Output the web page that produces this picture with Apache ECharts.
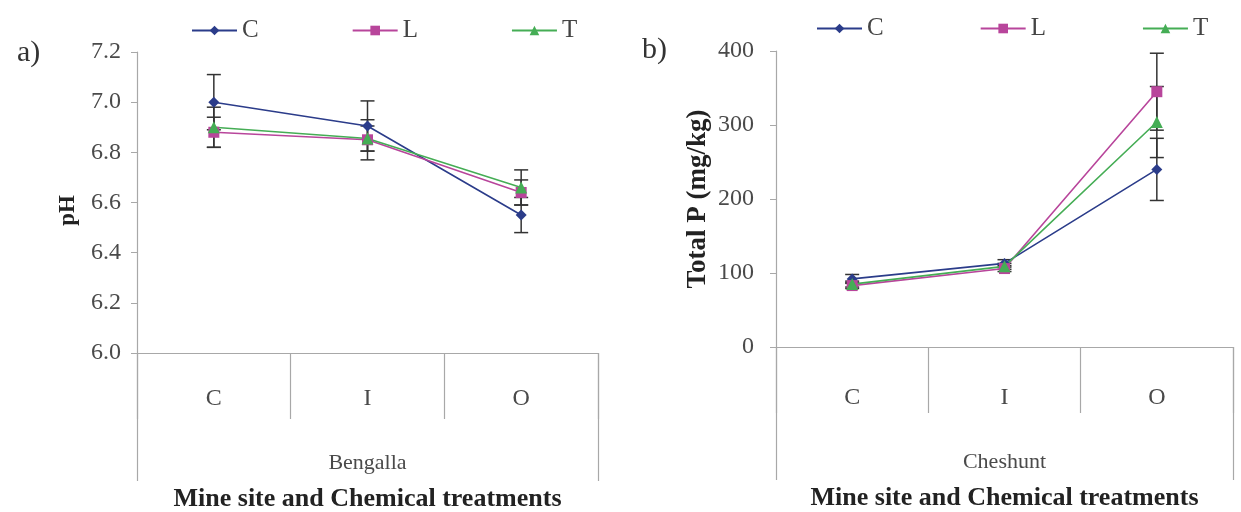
<!DOCTYPE html>
<html>
<head>
<meta charset="utf-8">
<script src="https://cdn.jsdelivr.net/npm/echarts@6/dist/echarts.min.js"></script>
<style>
html,body{margin:0;padding:0;background:#fff;}
#chart{width:1241px;height:512px;}
</style>
</head>
<body>
<div id="chart"></div>
<script>
// ---- data ----
var treatments = ['C', 'I', 'O'];
var seriesNames = ['C', 'L', 'T'];
// Panel a) Bengalla pH
var phC = [7.00, 6.905, 6.55];
var phL = [6.88, 6.85, 6.64];
var phT = [6.90, 6.855, 6.66];
var phErrC = [0.11, 0.10, 0.07];
var phErrL = [0.06, 0.08, 0.05];
var phErrT = [0.08, 0.05, 0.07];
// Panel b) Cheshunt Total P
var tpC = [92, 113, 240];
var tpL = [83, 106, 345];
var tpT = [85, 109, 304];
var tpErrC = [6, 5, 42];
var tpErrL = [4, 4, 52];
var tpErrT = [4, 4, 48];
var phTicks = ['6.0','6.2','6.4','6.6','6.8','7.0','7.2'];

var colors = {C: '#2b3c8a', L: '#b8459b', T: '#45ad55'};
var symbols = {C: 'diamond', L: 'rect', T: 'triangle'};
var serif = 'Liberation Serif';

function errData(vals, errs) {
  return vals.map(function (v, i) { return [i, v - errs[i], v + errs[i]]; });
}
function errSeries(vals, errs, gi) {
  return {
    type: 'custom', xAxisIndex: gi * 2, yAxisIndex: gi, z: 3,
    data: errData(vals, errs),
    renderItem: function (params, api) {
      var lo = api.coord([api.value(0), api.value(1)]);
      var hi = api.coord([api.value(0), api.value(2)]);
      var w = 7;
      var st = {stroke: '#333', lineWidth: 1.5};
      return {type: 'group', children: [
        {type: 'line', shape: {x1: lo[0], y1: lo[1], x2: hi[0], y2: hi[1]}, style: st},
        {type: 'line', shape: {x1: lo[0] - w, y1: lo[1], x2: lo[0] + w, y2: lo[1]}, style: st},
        {type: 'line', shape: {x1: hi[0] - w, y1: hi[1], x2: hi[0] + w, y2: hi[1]}, style: st}
      ]};
    }
  };
}
function lineSeries(name, vals, gi) {
  return {
    type: 'line', name: name, xAxisIndex: gi * 2, yAxisIndex: gi, z: 4,
    data: vals, symbol: symbols[name], symbolSize: name === 'T' ? 12 : 11,
    itemStyle: {color: colors[name]},
    lineStyle: {color: colors[name], width: 1.6}
  };
}

var axisGray = '#a8a8a8';
var labelGray = '#4a4a4a';

function catAxes(gi, group, shift) {
  return [
    {
      type: 'category', gridIndex: gi, data: treatments, position: 'bottom',
      boundaryGap: true,
      axisLine: {show: true, lineStyle: {color: axisGray, width: 1.2}},
      axisTick: {show: true, length: 66, lineStyle: {color: axisGray, width: 1.2}},
      axisLabel: {margin: 34 + shift, fontFamily: serif, fontSize: 24, color: labelGray}
    },
    {
      type: 'category', gridIndex: gi, data: [group], position: 'bottom',
      boundaryGap: true,
      axisLine: {show: false},
      axisTick: {show: true, length: 128 + shift, lineStyle: {color: axisGray, width: 1.2}},
      axisLabel: {margin: 99 + shift, fontFamily: serif, fontSize: 22, color: labelGray},
      name: 'Mine site and Chemical treatments', nameLocation: 'middle', nameGap: 133 + shift,
      nameTextStyle: {fontFamily: serif, fontSize: 26, fontWeight: 'bold', color: '#222'}
    }
  ];
}

var option = {
  backgroundColor: '#fff',
  animation: false,
  title: [
    {text: 'a)', left: 12, top: 33, textStyle: {fontFamily: serif, fontSize: 30, fontWeight: 'normal', color: '#333'}},
    {text: 'b)', left: 637, top: 30, textStyle: {fontFamily: serif, fontSize: 30, fontWeight: 'normal', color: '#333'}}
  ],
  legend: [
    {data: seriesNames, left: 186, top: 13, itemWidth: 45, itemHeight: 12, itemGap: 93,
     textStyle: {fontFamily: serif, fontSize: 25, color: '#444'}},
    {data: seriesNames, left: 811, top: 11, itemWidth: 45, itemHeight: 12, itemGap: 96,
     textStyle: {fontFamily: serif, fontSize: 25, color: '#444'}}
  ],
  grid: [
    {left: 137, right: 643, top: 52, bottom: 159, outerBoundsMode: 'none', containLabel: false},
    {left: 776, right: 8, top: 51, bottom: 165, outerBoundsMode: 'none', containLabel: false}
  ],
  xAxis: catAxes(0, 'Bengalla', 0).concat(catAxes(1, 'Cheshunt', 5)),
  yAxis: [
    {
      type: 'value', gridIndex: 0, min: 6.0, max: 7.2, interval: 0.2,
      axisLine: {show: true, lineStyle: {color: axisGray, width: 1.2}},
      axisTick: {show: true, length: 6, lineStyle: {color: axisGray}},
      splitLine: {show: false},
      axisLabel: {margin: 16, fontFamily: serif, fontSize: 24, color: labelGray,
        formatter: function (v) { return phTicks[Math.round((v - 6) / 0.2)]; }},
      name: 'pH', nameLocation: 'middle', nameGap: 57,
      nameTextStyle: {fontFamily: serif, fontSize: 23, fontWeight: 'bold', color: '#222', padding: [0, 16, 0, 0]}
    },
    {
      type: 'value', gridIndex: 1, min: 0, max: 400, interval: 100,
      axisLine: {show: true, lineStyle: {color: axisGray, width: 1.2}},
      axisTick: {show: true, length: 6, lineStyle: {color: axisGray}},
      splitLine: {show: false},
      axisLabel: {margin: 22, fontFamily: serif, fontSize: 24, color: labelGray},
      name: 'Total P (mg/kg)', nameLocation: 'middle', nameGap: 64,
      nameTextStyle: {fontFamily: serif, fontSize: 27, fontWeight: 'bold', color: '#222'}
    }
  ],
  series: [
    errSeries(phC, phErrC, 0), errSeries(phL, phErrL, 0), errSeries(phT, phErrT, 0),
    lineSeries('C', phC, 0), lineSeries('L', phL, 0), lineSeries('T', phT, 0),
    errSeries(tpC, tpErrC, 1), errSeries(tpL, tpErrL, 1), errSeries(tpT, tpErrT, 1),
    lineSeries('C', tpC, 1), lineSeries('L', tpL, 1), lineSeries('T', tpT, 1)
  ]
};

var chart = echarts.init(document.getElementById('chart'), null, {renderer: 'canvas'});
chart.setOption(option);
</script>
</body>
</html>
